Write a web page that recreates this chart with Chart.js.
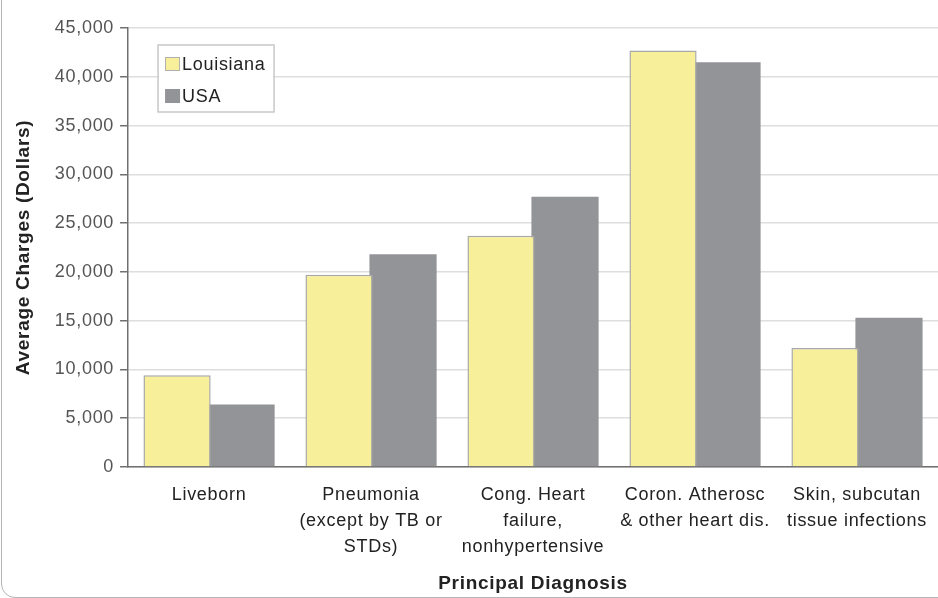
<!DOCTYPE html>
<html>
<head>
<meta charset="utf-8">
<script src="https://cdn.jsdelivr.net/npm/chart.js@4.4.1/dist/chart.umd.min.js"></script>
<style>
  html, body { margin: 0; padding: 0; background: #fff; overflow: hidden; }
  #wrap { position: relative; width: 938px; height: 598px; }
  #frame {
    position: absolute; left: 1px; top: -20px; width: 1000px; height: 618px;
    border: 1.5px solid #b4b4b8; border-radius: 14px; box-sizing: border-box;
  }
  canvas { position: absolute; left: 0; top: 0; }
</style>
</head>
<body>
<div id="wrap">
  <div id="frame"></div>
  <canvas id="chart" width="938" height="598"></canvas>
</div>
<script>
// categories and values
const categories = [
  ['Liveborn'],
  ['Pneumonia', '(except by TB or', 'STDs)'],
  ['Cong. Heart', 'failure,', 'nonhypertensive'],
  ['Coron. Atherosc', '& other heart dis.'],
  ['Skin, subcutan', 'tissue infections'],
];
const louisiana = [9400, 19700, 23700, 42700, 12200];
const usa = [6400, 21800, 27700, 41500, 15300];
const yTicks = [0, 5000, 10000, 15000, 20000, 25000, 30000, 35000, 40000, 45000];

const FONT = '"Liberation Sans", Arial, sans-serif';
const COLORS = {
  yellow: '#f8ef9a',
  yellowBorder: '#a8a8a8',
  gray: '#939498',
  grid: '#dedede',
  axis: '#707070',
  tickText: '#555555',
  label: '#222222',
};

// the original text is slightly tracked
const tracking = {
  id: 'tracking',
  beforeInit(chart) { chart.ctx.letterSpacing = '0.7px'; },
  beforeUpdate(chart) { chart.ctx.letterSpacing = '0.7px'; },
  beforeDraw(chart) { chart.ctx.letterSpacing = '0.7px'; },
};

// legend drawn inside the plot area, top left
const boxLegend = {
  id: 'boxLegend',
  afterDraw(chart) {
    const ctx = chart.ctx;
    const a = chart.chartArea;
    const x = a.left + 30, y = a.top + 17, w = 116, h = 67;
    ctx.save();
    ctx.fillStyle = '#fff';
    ctx.fillRect(x, y, w, h);
    ctx.strokeStyle = '#c8c8c8';
    ctx.lineWidth = 1.5;
    ctx.strokeRect(x, y, w, h);
    ctx.font = '18px ' + FONT;
    ctx.textBaseline = 'middle';
    chart.data.datasets.forEach((ds, i) => {
      const cy = y + 19 + i * 32;
      ctx.fillStyle = ds.backgroundColor;
      ctx.fillRect(x + 7, cy - 7, 15, 14);
      if (i === 0) {
        ctx.strokeStyle = '#b0b0b0';
        ctx.lineWidth = 1;
        ctx.strokeRect(x + 7.5, cy - 6.5, 14, 13);
      }
      ctx.fillStyle = COLORS.label;
      ctx.fillText(ds.label, x + 24, cy + 1);
    });
    ctx.restore();
  }
};

new Chart(document.getElementById('chart').getContext('2d'), {
  type: 'bar',
  data: {
    labels: categories,
    datasets: [
      {
        label: 'Louisiana',
        data: louisiana,
        backgroundColor: COLORS.yellow,
        borderColor: COLORS.yellowBorder,
        borderWidth: { top: 1.5, left: 1.5, right: 1.5, bottom: 0 },
        categoryPercentage: 0.79,
        barPercentage: 1.05,
      },
      {
        label: 'USA',
        data: usa,
        backgroundColor: COLORS.gray,
        borderWidth: 0,
        categoryPercentage: 0.79,
        barPercentage: 1.05,
      },
    ],
  },
  options: {
    responsive: false,
    animation: false,
    layout: { padding: { top: 28, right: -3, left: 12, bottom: 3 } },
    plugins: {
      legend: { display: false },
      tooltip: { enabled: false },
    },
    scales: {
      x: {
        grid: { display: false },
        border: { display: true, color: COLORS.axis, width: 1.5 },
        ticks: {
          color: COLORS.label,
          font: { family: FONT, size: 18, lineHeight: 1.45 },
          maxRotation: 0,
          autoSkip: false,
          padding: 7,
        },
        title: {
          display: true,
          text: 'Principal Diagnosis',
          color: COLORS.label,
          font: { family: FONT, size: 19, weight: 'bold' },
          padding: { top: 5, bottom: 0 },
        },
      },
      y: {
        min: 0,
        max: 45000,
        afterBuildTicks: axis => { axis.ticks = yTicks.map(v => ({ value: v })); },
        grid: {
          color: COLORS.grid,
          lineWidth: 1.5,
          tickColor: COLORS.axis,
          tickLength: 8,
        },
        border: { display: true, color: COLORS.axis, width: 1.5 },
        ticks: {
          color: COLORS.tickText,
          font: { family: FONT, size: 18 },
          padding: 6,
          callback: v => v.toLocaleString('en-US'),
        },
        title: {
          display: true,
          text: 'Average Charges (Dollars)',
          color: COLORS.label,
          font: { family: FONT, size: 19, weight: 'bold' },
          padding: { top: 0, bottom: 14 },
        },
      },
    },
  },
  plugins: [tracking, boxLegend],
});
</script>
</body>
</html>
